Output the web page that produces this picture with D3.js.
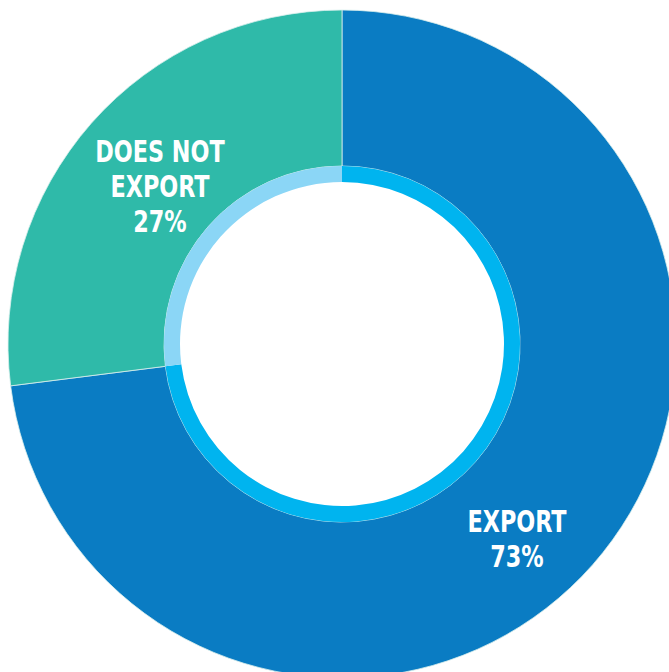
<!DOCTYPE html>
<html><head><meta charset="utf-8">
<script src="https://cdn.jsdelivr.net/npm/d3@7"></script>
<style>html,body{margin:0;padding:0;background:#fff;overflow:hidden}</style>
</head><body>
<svg id="c" width="669" height="672"></svg>
<script>
const categories = ["EXPORT", "DOES NOT EXPORT"];
const values = [73, 27];
const labelLines = [["EXPORT", "73%"], ["DOES NOT", "EXPORT", "27%"]];
const outerColors = ["#0a7cc3", "#2fbaa9"];
const innerColors = ["#00b4ef", "#8bd6f6"];

const svg = d3.select("#c");
const cx = 342, cy = 344, R = 334, r1 = 178, r0 = 162;
const g = svg.append("g").attr("transform", `translate(${cx},${cy})`);
const pie = d3.pie().sort(null).value(d => d)(values);

g.selectAll("path.outer").data(pie).join("path")
  .attr("class", "outer")
  .attr("d", d3.arc().innerRadius(r1).outerRadius(R))
  .attr("fill", (d, i) => outerColors[i])
  .attr("stroke", "#d8efec").attr("stroke-width", 0.8);

g.selectAll("path.inner").data(pie).join("path")
  .attr("class", "inner")
  .attr("d", d3.arc().innerRadius(r0).outerRadius(r1))
  .attr("fill", (d, i) => innerColors[i]);

const labelPos = [[175, 188], [-182, -182]];
const lh = 35;
const sx = 0.8;
pie.forEach((d, i) => {
  const lines = labelLines[i];
  const t = g.append("g")
    .attr("transform", `translate(${labelPos[i][0]},${labelPos[i][1]}) scale(${sx},1)`)
    .append("text")
    .attr("text-anchor", "middle")
    .attr("font-family", "'DejaVu Sans',sans-serif")
    .attr("font-stretch", "condensed")
    .attr("font-weight", "bold")
    .attr("font-size", 31)
    .attr("fill", "#fff");
  lines.forEach((s, j) => {
    t.append("tspan").attr("x", 0).attr("y", j * lh).text(s);
  });
});
</script>
</body></html>
